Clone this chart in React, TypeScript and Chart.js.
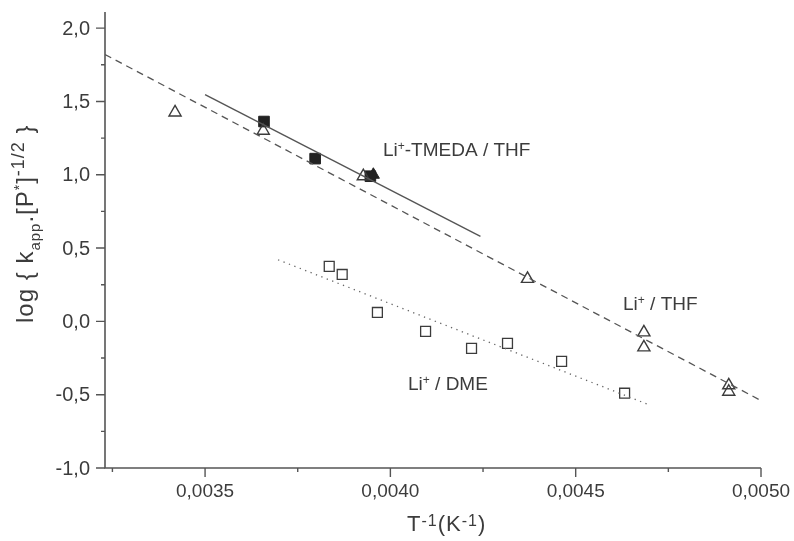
import React, { useEffect, useRef } from 'react';
import { Chart, registerables } from 'chart.js';

Chart.register(...registerables);

// Li+ / THF (open triangles)
const thfX = [0.003419, 0.003657, 0.003927, 0.00437, 0.004684, 0.004684, 0.004913, 0.004913];
const thfY = [1.425, 1.3, 0.99, 0.29, -0.075, -0.177, -0.436, -0.48];

// Li+-TMEDA / THF (filled squares + filled triangle)
const tmedaX = [0.003659, 0.003797, 0.003946];
const tmedaY = [1.363, 1.11, 0.99];
const tmedaTriX = [0.003954];
const tmedaTriY = [1.0];

// Li+ / DME (open squares)
const dmeX = [0.003835, 0.00387, 0.003965, 0.004095, 0.004219, 0.004316, 0.004462, 0.004632];
const dmeY = [0.375, 0.32, 0.061, -0.068, -0.184, -0.15, -0.273, -0.49];

// fitted lines (end points)
const thfFitX = [0.00323, 0.005];
const thfFitY = [1.82, -0.54];
const tmedaFitX = [0.0035, 0.004243];
const tmedaFitY = [1.547, 0.58];
const dmeFitX = [0.003697, 0.004695];
const dmeFitY = [0.42, -0.566];

// axes
const xMin = 0.00323;
const xMax = 0.005;
const yMin = -1.0;
const yMax = 2.11;
const xMajorTicks = [0.0035, 0.004, 0.0045, 0.005];
const xMinorTicks = [0.00325, 0.00375, 0.00425, 0.00475];
const yMajorTicks = [-1.0, -0.5, 0.0, 0.5, 1.0, 1.5, 2.0];
const yMinorTicks = [-0.75, -0.25, 0.25, 0.75, 1.25, 1.75];

const FONT = '"Liberation Sans", Arial, sans-serif';
const INK = '#3c3c3c';
const LINE = '#555555';

const pts = (xs: number[], ys: number[]) => xs.map((x, i) => ({ x, y: ys[i] }));

const fmtX = (v: number) => v.toFixed(4).replace('.', ',');
const fmtY = (v: number) => v.toFixed(1).replace('.', ',');

// draw a run of text segments with sub/superscripts; returns end x
function drawRich(
  ctx: CanvasRenderingContext2D,
  x: number,
  y: number,
  segs: { t: string; s?: number; d?: number }[],
  base: number,
  spacing = 0
) {
  let cx = x;
  (ctx as any).letterSpacing = `${spacing}px`;
  for (const seg of segs) {
    const size = seg.s ?? base;
    ctx.font = `${size}px ${FONT}`;
    ctx.fillText(seg.t, cx, y + (seg.d ?? 0));
    cx += ctx.measureText(seg.t).width;
  }
  (ctx as any).letterSpacing = '0px';
  return cx;
}

const axesPlugin = {
  id: 'customAxes',
  afterDraw(chart: any) {
    const ctx: CanvasRenderingContext2D = chart.ctx;
    const xs = chart.scales.x;
    const ys = chart.scales.y;
    const left = xs.getPixelForValue(xMin);
    const right = xs.getPixelForValue(xMax);
    const top = ys.getPixelForValue(yMax);
    const bottom = ys.getPixelForValue(yMin);
    ctx.save();
    ctx.strokeStyle = LINE;
    ctx.lineWidth = 1.6;
    ctx.beginPath();
    ctx.moveTo(left, top);
    ctx.lineTo(left, bottom);
    ctx.lineTo(right, bottom);
    ctx.stroke();

    ctx.lineWidth = 1.4;
    ctx.beginPath();
    for (const v of yMajorTicks) {
      const p = ys.getPixelForValue(v);
      ctx.moveTo(left, p);
      ctx.lineTo(left - 9, p);
    }
    for (const v of yMinorTicks) {
      const p = ys.getPixelForValue(v);
      ctx.moveTo(left, p);
      ctx.lineTo(left - 4, p);
    }
    for (const v of xMajorTicks) {
      const p = xs.getPixelForValue(v);
      ctx.moveTo(p, bottom);
      ctx.lineTo(p, bottom + 9);
    }
    for (const v of xMinorTicks) {
      const p = xs.getPixelForValue(v);
      ctx.moveTo(p, bottom);
      ctx.lineTo(p, bottom + 4);
    }
    ctx.stroke();

    ctx.fillStyle = INK;
    ctx.font = `20px ${FONT}`;
    ctx.textAlign = 'right';
    ctx.textBaseline = 'middle';
    for (const v of yMajorTicks) {
      ctx.fillText(fmtY(v), left - 15, ys.getPixelForValue(v) + 1);
    }
    ctx.font = `19px ${FONT}`;
    ctx.textAlign = 'center';
    ctx.textBaseline = 'alphabetic';
    for (const v of xMajorTicks) {
      ctx.fillText(fmtX(v), xs.getPixelForValue(v), bottom + 29);
    }

    // x title
    ctx.textAlign = 'left';
    drawRich(ctx, 407, 531, [
      { t: 'T' },
      { t: '-1', s: 16, d: -5 },
      { t: '(K' },
      { t: '-1', s: 16, d: -5 },
      { t: ')' },
    ], 22, 1);

    // y title
    ctx.save();
    ctx.translate(33, 323);
    ctx.rotate(-Math.PI / 2);
    drawRich(ctx, 0, 0, [
      { t: 'log { k' },
      { t: 'app', s: 15, d: 7 },
      { t: '.[P' },
      { t: '*', s: 14, d: -9 },
      { t: ']' },
      { t: '-1/2', s: 18, d: -9 },
      { t: ' }' },
    ], 24, 1);
    ctx.restore();

    // series labels
    drawRich(ctx, 383, 156, [
      { t: 'Li' },
      { t: '+', s: 12, d: -6 },
      { t: '-TMEDA / THF' },
    ], 19);
    drawRich(ctx, 623, 310, [
      { t: 'Li' },
      { t: '+', s: 12, d: -6 },
      { t: ' / THF' },
    ], 19);
    drawRich(ctx, 408, 390, [
      { t: 'Li' },
      { t: '+', s: 12, d: -6 },
      { t: ' / DME' },
    ], 19);
    ctx.restore();
  },
};

export default function App() {
  const ref = useRef<HTMLCanvasElement | null>(null);
  useEffect(() => {
    document.body.style.margin = '0';
    const canvas = ref.current;
    if (!canvas) return;
    const chart = new Chart(canvas, {
      type: 'scatter',
      data: {
        datasets: [
          {
            label: 'THF fit',
            data: pts(thfFitX, thfFitY),
            showLine: true,
            borderColor: LINE,
            borderWidth: 1.3,
            borderDash: [7, 5],
            pointRadius: 0,
          },
          {
            label: 'TMEDA fit',
            data: pts(tmedaFitX, tmedaFitY),
            showLine: true,
            borderColor: LINE,
            borderWidth: 1.4,
            pointRadius: 0,
          },
          {
            label: 'DME fit',
            data: pts(dmeFitX, dmeFitY),
            showLine: true,
            borderColor: '#666',
            borderWidth: 1.3,
            borderDash: [1.3, 4.5],
            pointRadius: 0,
          },
          {
            label: 'Li+ / THF',
            data: pts(thfX, thfY),
            pointStyle: 'triangle',
            pointRadius: 7,
            borderColor: INK,
            borderWidth: 1.4,
            backgroundColor: 'rgba(255,255,255,0)',
          },
          {
            label: 'Li+ / DME',
            data: pts(dmeX, dmeY),
            pointStyle: 'rect',
            pointRadius: 7,
            borderColor: INK,
            borderWidth: 1.3,
            backgroundColor: 'rgba(255,255,255,0)',
          },
          {
            label: 'Li+-TMEDA / THF',
            data: pts(tmedaX, tmedaY),
            pointStyle: 'rect',
            pointRadius: 7.5,
            borderColor: '#222',
            borderWidth: 1,
            backgroundColor: '#222',
          },
          {
            label: 'Li+-TMEDA / THF tri',
            data: pts(tmedaTriX, tmedaTriY),
            pointStyle: 'triangle',
            pointRadius: 7,
            borderColor: '#222',
            borderWidth: 1,
            backgroundColor: '#222',
          },
        ],
      },
      options: {
        responsive: false,
        animation: false,
        layout: { padding: { left: 105, right: 33, top: 12, bottom: 73 } },
        plugins: { legend: { display: false }, tooltip: { enabled: false } },
        scales: {
          x: { type: 'linear', min: xMin, max: xMax, display: false },
          y: { type: 'linear', min: yMin, max: yMax, display: false },
        },
      },
      plugins: [axesPlugin],
    });
    return () => chart.destroy();
  }, []);
  return (
    <div style={{ width: 794, height: 541, background: '#fff' }}>
      <canvas ref={ref} width={794} height={541} style={{ display: 'block' }} />
    </div>
  );
}
